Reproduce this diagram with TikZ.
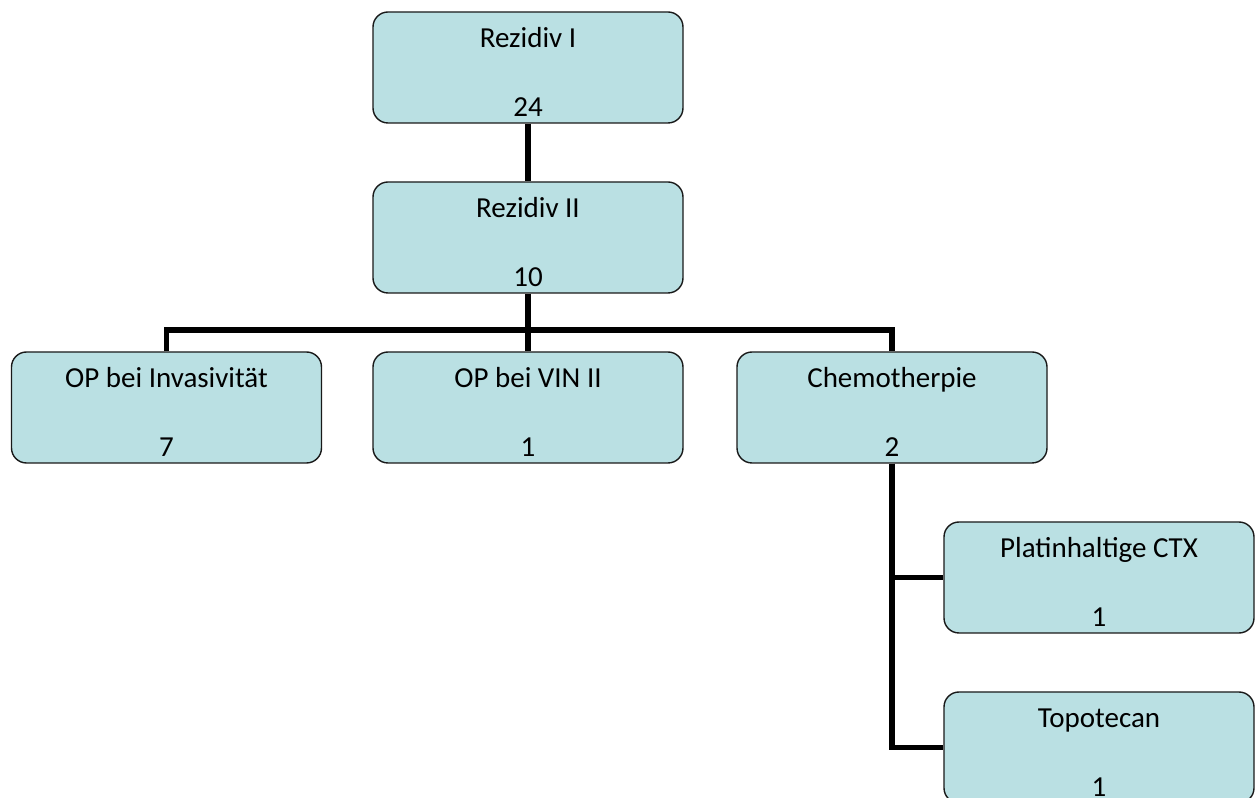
\documentclass[tikz,border=0pt]{standalone}
\usepackage{fontspec}
\setmainfont{Carlito}
\usepackage{tikz}

\definecolor{boxfill}{RGB}{186,224,227}
\definecolor{boxline}{RGB}{25,25,25}

% title, empty line, count
\newcommand{\boxlines}[2]{\rule{0pt}{16.5pt}#1\\ \\#2}

\begin{document}
\begin{tikzpicture}[
    box/.style={draw=boxline, fill=boxfill, line width=0.8pt, rounded corners=0.3cm,
        minimum width=6.2cm, minimum height=2.22cm, align=center, inner sep=0pt,
        font=\fontsize{16.5}{19.5}\selectfont},
    link/.style={line width=3.4pt, black}
]
\useasboundingbox (0,0) rectangle (25.1,15.96);

% Top of the tree
\node[box] (rez1) at (10.56,14.61) {\boxlines{Rezidiv I}{24}};
\node[box] (rez2) at (10.56,11.21) {\boxlines{Rezidiv II}{10}};

% Second level
\node[box] (opinv) at (3.33,7.81) {\boxlines{OP bei Invasivität}{7}};
\node[box] (opvin) at (10.56,7.81) {\boxlines{OP bei VIN II}{1}};
\node[box] (chemo) at (17.84,7.81) {\boxlines{Chemotherpie}{2}};

% Chemo branches
\node[box] (platin) at (21.98,4.41) {\boxlines{Platinhaltige CTX}{1}};
\node[box] (topo) at (21.98,1.01) {\boxlines{Topotecan}{1}};

% Links
\coordinate (bus) at (10.56,9.36);
\draw[link] (rez1) -- (rez2);
\draw[link] (rez2.south) -- (bus);
\draw[link] (opinv.north) |- (bus) -| (chemo.north);
\draw[link] (bus) -- (opvin.north);
\draw[link] (chemo.south) |- (platin.west);
\draw[link] (chemo.south) |- (topo.west);

\end{tikzpicture}
\end{document}
